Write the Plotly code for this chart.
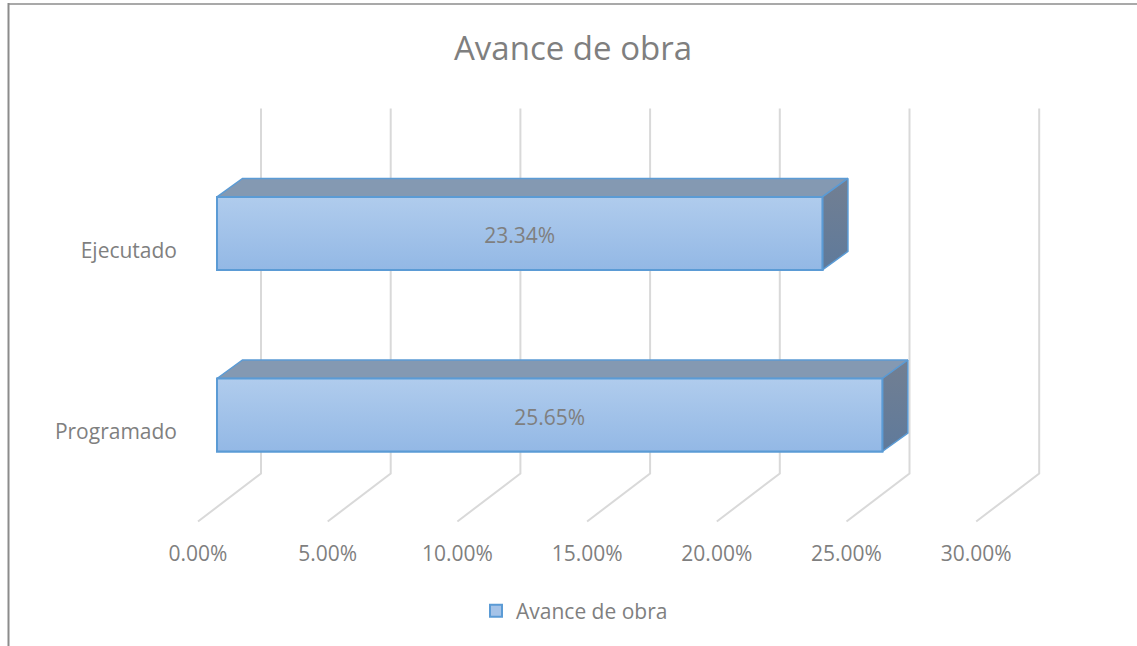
import plotly.graph_objects as go

# chart values
categories = ["Programado", "Ejecutado"]
avance = [25.65, 23.34]
labels = ["25.65%", "23.34%"]
tick_vals = [0, 5, 10, 15, 20, 25, 30]
tick_text = ["0.00%", "5.00%", "10.00%", "15.00%", "20.00%", "25.00%", "30.00%"]
serie = "Avance de obra"

W, H = 1137, 646
GRAY = "#7f7f7f"
BLUE = "#5b9bd5"
FONT = "Open Sans"

# the 3D look, all in px
PX_X = 25.94    # px per 1 %
PX_Y = 181.6    # px between the two categories
DEPTH_X = 25.5 / PX_X
DEPTH_Y = 18.5 / PX_Y
BAR_H = 73 / PX_Y
FLOOR_X = 63 / PX_X
FLOOR_Y = 48 / PX_Y
LABEL_DY = 4.5 / PX_Y

pos = list(range(len(categories)))


def x_range(left_px):
    return [-left_px / PX_X, (W - left_px) / PX_X]


def y_range(first_px):
    return [(first_px - H) / PX_Y, first_px / PX_Y]


fig = go.Figure()

# wall + floor gridlines live on the main axes, the ones carrying the labels
wall_bottom = -41.5 / PX_Y + 0
wall_top = wall_bottom + 365 / PX_Y
for t in tick_vals:
    fig.add_trace(go.Scatter(
        x=[t, t + FLOOR_X, t + FLOOR_X],
        y=[wall_bottom - FLOOR_Y, wall_bottom, wall_top],
        mode="lines",
        line=dict(color="#d9d9d9", width=2),
        showlegend=False,
        hoverinfo="skip",
    ))

# legend and base of the bars
fig.add_trace(go.Bar(
    x=avance,
    y=pos,
    orientation="h",
    width=BAR_H,
    name=serie,
    marker=dict(color="#a5c3e8", line=dict(color=BLUE, width=2)),
    xaxis="x2",
    yaxis="y2",
))

for i, v in zip(pos, avance):
    top = i + BAR_H / 2
    bottom = i - BAR_H / 2
    # top face
    fig.add_trace(go.Scatter(
        x=[0, v, v + DEPTH_X, DEPTH_X, 0],
        y=[top, top, top + DEPTH_Y, top + DEPTH_Y, top],
        mode="lines",
        fill="toself",
        fillcolor="#8499b2",
        line=dict(color=BLUE, width=1.5),
        showlegend=False,
        hoverinfo="skip",
        xaxis="x2",
        yaxis="y2",
    ))
    # side face
    fig.add_trace(go.Scatter(
        x=[v, v + DEPTH_X, v + DEPTH_X, v, v],
        y=[top, top + DEPTH_Y, bottom + DEPTH_Y, bottom, top],
        mode="lines",
        fill="toself",
        fillgradient=dict(
            type="vertical",
            colorscale=[[0, "#5f7a9b"], [1, "#727f92"]],
        ),
        line=dict(color=BLUE, width=1.5),
        showlegend=False,
        hoverinfo="skip",
        xaxis="x2",
        yaxis="y2",
    ))
    # front face
    fig.add_trace(go.Scatter(
        x=[0, v, v, 0, 0],
        y=[top, top, bottom, bottom, top],
        mode="lines",
        fill="toself",
        fillgradient=dict(
            type="vertical",
            colorscale=[[0, "#93b8e5"], [1, "#b0cced"]],
        ),
        line=dict(color=BLUE, width=2),
        showlegend=False,
        hoverinfo="skip",
        xaxis="x2",
        yaxis="y2",
    ))

# data labels
fig.add_trace(go.Scatter(
    x=[v / 2 for v in avance],
    y=[i - LABEL_DY for i in pos],
    mode="text",
    text=labels,
    textfont=dict(family=FONT, size=21, color=GRAY),
    showlegend=False,
    hoverinfo="skip",
    xaxis="x2",
    yaxis="y2",
))

fig.update_layout(
    width=W,
    height=H,
    margin=dict(l=0, r=0, t=0, b=0),
    paper_bgcolor="white",
    plot_bgcolor="rgba(0,0,0,0)",
    font=dict(family=FONT, color=GRAY),
    title=dict(
        text=serie,
        x=573 / W,
        xanchor="center",
        y=1 - 48 / H,
        yanchor="middle",
        font=dict(family=FONT, size=33, color=GRAY),
    ),
    legend=dict(
        orientation="h",
        x=476 / W,
        xanchor="left",
        y=1 - 611 / H,
        yanchor="middle",
        font=dict(family=FONT, size=21, color=GRAY),
        bgcolor="rgba(0,0,0,0)",
    ),
    xaxis=dict(
        range=x_range(198),
        anchor="free",
        position=1 - 538.5 / H,
        tickmode="array",
        tickvals=tick_vals,
        ticktext=tick_text,
        tickfont=dict(family=FONT, size=21, color=GRAY),
        showgrid=False,
        zeroline=False,
        showline=False,
        ticks="",
    ),
    yaxis=dict(
        range=y_range(432),
        anchor="free",
        position=177 / W,
        tickmode="array",
        tickvals=pos,
        ticktext=categories,
        tickfont=dict(family=FONT, size=21, color=GRAY),
        showgrid=False,
        zeroline=False,
        showline=False,
        ticks="",
    ),
    xaxis2=dict(range=x_range(217), overlaying="x", visible=False),
    yaxis2=dict(range=y_range(415), overlaying="y", visible=False),
    shapes=[
        # frame of the cropped chart area
        dict(type="line", xref="paper", yref="paper", x0=8.5 / W, x1=1, y0=1 - 4 / H, y1=1 - 4 / H,
             line=dict(color="#8c8c8c", width=1.5)),
        dict(type="line", xref="paper", yref="paper", x0=8.5 / W, x1=8.5 / W, y0=0, y1=1 - 3 / H,
             line=dict(color="#8c8c8c", width=2)),
    ],
)

fig.write_html(
    "out.html",
    config={"displayModeBar": False},
    post_script="document.body.style.margin='0'",
)
